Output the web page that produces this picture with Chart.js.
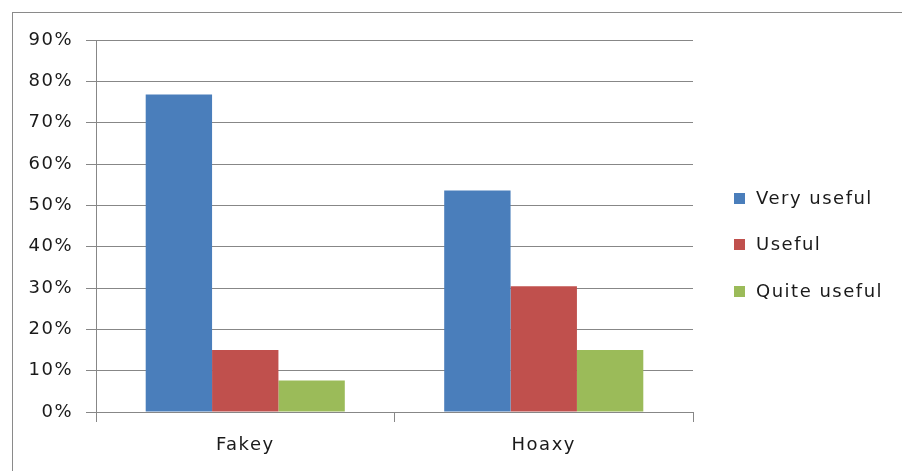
<!DOCTYPE html>
<html>
<head>
<meta charset="utf-8">
<script src="https://cdn.jsdelivr.net/npm/chart.js@4/dist/chart.umd.min.js"></script>
<style>
html,body{margin:0;padding:0;background:#fff;overflow:hidden;}
#wrap{position:relative;width:902px;height:471px;}
</style>
</head>
<body>
<div id="wrap"><canvas id="c" width="902" height="471"></canvas></div>
<script>
const categories = ['Fakey', 'Hoaxy'];
const seriesNames = ['Very useful', 'Useful', 'Quite useful'];
const veryUseful = [76.8, 53.6];
const useful = [15.0, 30.4];
const quiteUseful = [7.6, 15.0];
const colors = ['#4A7EBB', '#C0504D', '#9BBB59'];
const yMax = 90;
const yStep = 10;

const FONT = 'DejaVu Sans';
const FSIZE = 18;
const SPACING = '1.5px';
const TEXT = '#1a1a1a';
const LINE = '#878787';

const borderPlugin = {
  id: 'frame',
  beforeDraw(chart) {
    const ctx = chart.ctx;
    ctx.save();
    ctx.fillStyle = '#fff';
    ctx.fillRect(0, 0, chart.width, chart.height);
    ctx.fillStyle = '#8a8a8a';
    ctx.fillRect(12, 12, 1, chart.height - 12);
    ctx.fillRect(12, 12, chart.width - 12, 1);
    ctx.restore();
    ctx.letterSpacing = SPACING;
  }
};

const legendPlugin = {
  id: 'sideLegend',
  afterDraw(chart) {
    const ctx = chart.ctx;
    const rows = [198, 244, 291];
    ctx.save();
    ctx.letterSpacing = SPACING;
    ctx.font = FSIZE + 'px ' + FONT;
    ctx.textBaseline = 'middle';
    ctx.textAlign = 'left';
    chart.data.datasets.forEach((ds, i) => {
      const y = rows[i];
      ctx.fillStyle = ds.backgroundColor;
      ctx.fillRect(734, y - 5, 11, 11);
      ctx.fillStyle = TEXT;
      ctx.fillText(ds.label, 756, y + 1);
    });
    ctx.restore();
  }
};

new Chart(document.getElementById('c'), {
  type: 'bar',
  data: {
    labels: categories,
    datasets: [
      { label: seriesNames[0], data: veryUseful, backgroundColor: colors[0] },
      { label: seriesNames[1], data: useful, backgroundColor: colors[1] },
      { label: seriesNames[2], data: quiteUseful, backgroundColor: colors[2] }
    ]
  },
  options: {
    responsive: false,
    animation: false,
    devicePixelRatio: 1,
    layout: { padding: { left: 0, right: 209, top: 40, bottom: 0 } },
    datasets: { bar: { barPercentage: 1.0, categoryPercentage: 0.667 } },
    plugins: { legend: { display: false }, tooltip: { enabled: false } },
    scales: {
      x: {
        offset: true,
        afterFit(scale) { scale.height = 59; },
        grid: { display: true, drawOnChartArea: false, drawTicks: true, tickLength: 10, color: LINE, offset: true },
        border: { display: true, color: LINE },
        ticks: { color: TEXT, font: { family: FONT, size: FSIZE }, padding: 13 }
      },
      y: {
        min: 0,
        max: yMax,
        afterFit(scale) { scale.width = 96; },
        grid: { color: LINE, tickLength: 10, drawTicks: true },
        border: { display: true, color: LINE },
        ticks: {
          stepSize: yStep,
          color: TEXT,
          font: { family: FONT, size: FSIZE },
          padding: 13,
          callback: v => v + '%'
        }
      }
    }
  },
  plugins: [borderPlugin, legendPlugin]
});
</script>
</body>
</html>
